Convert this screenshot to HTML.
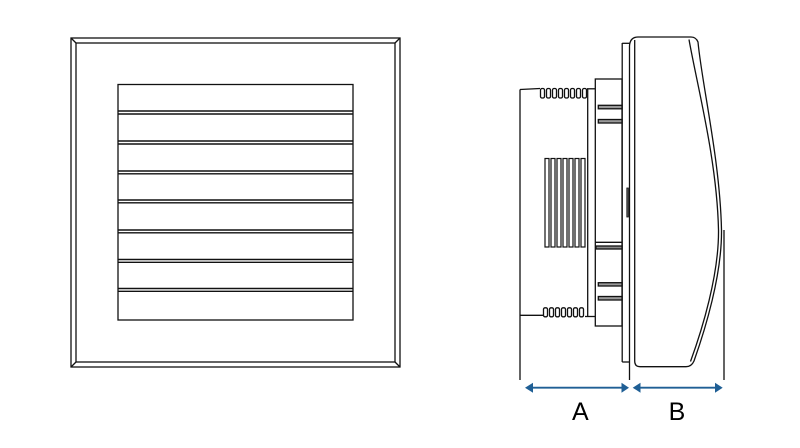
<!DOCTYPE html>
<html>
<head>
<meta charset="utf-8">
<style>
html,body{margin:0;padding:0;background:#fff;}
svg{display:block;}
</style>
</head>
<body>
<svg width="800" height="448" viewBox="0 0 800 448" xmlns="http://www.w3.org/2000/svg">
<rect width="800" height="448" fill="#fff"/>
<g fill="none" stroke="#111" stroke-width="1.3">
  <!-- Front view -->
  <rect x="71" y="38" width="329" height="329"/>
  <rect x="76" y="43" width="319" height="319"/>
  <line x1="71" y1="38" x2="76" y2="43"/>
  <line x1="400" y1="38" x2="395" y2="43"/>
  <line x1="71" y1="367" x2="76" y2="362"/>
  <line x1="400" y1="367" x2="395" y2="362"/>
  <rect x="118" y="84.5" width="235" height="235.5"/>
  <g stroke-width="1.4">
    <line x1="118" y1="111" x2="353" y2="111"/><line x1="118" y1="114" x2="353" y2="114"/>
    <line x1="118" y1="141" x2="353" y2="141"/><line x1="118" y1="144" x2="353" y2="144"/>
    <line x1="118" y1="171" x2="353" y2="171"/><line x1="118" y1="173.8" x2="353" y2="173.8"/>
    <line x1="118" y1="200" x2="353" y2="200"/><line x1="118" y1="202.8" x2="353" y2="202.8"/>
    <line x1="118" y1="230" x2="353" y2="230"/><line x1="118" y1="232.8" x2="353" y2="232.8"/>
    <line x1="118" y1="259.5" x2="353" y2="259.5"/><line x1="118" y1="262.3" x2="353" y2="262.3"/>
    <line x1="118" y1="288.5" x2="353" y2="288.5"/><line x1="118" y1="291.3" x2="353" y2="291.3"/>
  </g>

  <!-- Side view: rear body -->
  <line x1="520" y1="89.5" x2="520" y2="380"/>
  <line x1="520" y1="89.5" x2="540" y2="88.5"/>
  <line x1="587" y1="88.8" x2="595" y2="88.8"/>
  <line x1="587.7" y1="88.5" x2="587.7" y2="316.5"/>
  <line x1="520" y1="315.3" x2="543" y2="315.3"/>
  <line x1="585" y1="316.5" x2="595" y2="316.5"/>
  <!-- top comb -->
  <g stroke-width="1.3">
    <rect x="540.5" y="88.5" width="4" height="9.5" rx="1.5"/>
    <rect x="546.5" y="88.5" width="4" height="9.5" rx="1.5"/>
    <rect x="552.5" y="88.5" width="4" height="9.5" rx="1.5"/>
    <rect x="558.5" y="88.5" width="4" height="9.5" rx="1.5"/>
    <rect x="564.5" y="88.5" width="4" height="9.5" rx="1.5"/>
    <rect x="570.5" y="88.5" width="4" height="9.5" rx="1.5"/>
    <rect x="576.5" y="88.5" width="4" height="9.5" rx="1.5"/>
    <rect x="582.5" y="88.5" width="4" height="9.5" rx="1.5"/>
  </g>
  <!-- bottom comb -->
  <g stroke-width="1.3">
    <rect x="543.5" y="307.8" width="4" height="9" rx="1.5"/>
    <rect x="549.5" y="307.8" width="4" height="9" rx="1.5"/>
    <rect x="555.5" y="307.8" width="4" height="9" rx="1.5"/>
    <rect x="561.5" y="307.8" width="4" height="9" rx="1.5"/>
    <rect x="567.5" y="307.8" width="4" height="9" rx="1.5"/>
    <rect x="573.5" y="307.8" width="4" height="9" rx="1.5"/>
    <rect x="579.5" y="307.8" width="4" height="9" rx="1.5"/>
  </g>
  <!-- middle ribs -->
  <g stroke-width="1.2">
    <rect x="545" y="158.5" width="4" height="88.5"/>
    <rect x="551" y="158.5" width="4" height="88.5"/>
    <rect x="557" y="158.5" width="4" height="88.5"/>
    <rect x="563" y="158.5" width="4" height="88.5"/>
    <rect x="569" y="158.5" width="4" height="88.5"/>
    <rect x="575" y="158.5" width="4" height="88.5"/>
    <rect x="581" y="158.5" width="4" height="88.5"/>
  </g>

  <!-- box -->
  <rect x="595.3" y="79" width="26.7" height="247"/>
  <line x1="595.3" y1="242.3" x2="622" y2="242.3"/>
  <rect x="596" y="246" width="26" height="3" fill="#888"/>
  <rect x="598.3" y="105.3" width="23.7" height="3.5" fill="#999"/>
  <rect x="598.3" y="119.5" width="23.7" height="3.5" fill="#999"/>
  <rect x="598.3" y="282.7" width="23.7" height="3.3" fill="#999"/>
  <rect x="598.3" y="296.5" width="23.7" height="3.5" fill="#999"/>

  <!-- flange -->
  <line x1="622.2" y1="43" x2="622.2" y2="362"/>
  <line x1="622.2" y1="43.3" x2="629.5" y2="43.3"/>
  <line x1="622.2" y1="362" x2="629.5" y2="362"/>
  <rect x="626.8" y="188" width="1.6" height="29" fill="#555" stroke-width="0.8"/>

  <!-- cover -->
  <path d="M629.5,380 L629.5,46 Q630,37 638,37 L691,37 Q696,37 698,42 C702,85 720,160 721.5,230 C722,275 705,330 694,361 Q691.5,366.7 686,366.7 L640,366.7 Q634.7,366.7 634.7,361 L634.7,40"/>
  <path d="M689,39.5 C697,85 717,160 718.5,230 C719,275 702,330 690.5,361.5"/>
  <line x1="724" y1="230" x2="724" y2="380"/>
</g>

<!-- dimension arrows -->
<g stroke="#1f5f95" stroke-width="1.8" fill="#1f5f95">
  <line x1="530" y1="387.7" x2="624" y2="387.7"/>
  <line x1="638" y1="387.7" x2="718" y2="387.7"/>
  <polygon points="525,387.7 533,382.7 533,392.7" stroke="none"/>
  <polygon points="629,387.7 621.5,382.7 621.5,392.7" stroke="none"/>
  <polygon points="632.7,387.7 640.5,382.7 640.5,392.7" stroke="none"/>
  <polygon points="722.7,387.7 715,382.7 715,392.7" stroke="none"/>
</g>
<g font-family="'Liberation Sans', Arial, sans-serif" font-size="25" fill="#000" text-anchor="middle">
  <text x="580.3" y="420">A</text>
  <text x="677" y="420">B</text>
</g>
</svg>
</body>
</html>
